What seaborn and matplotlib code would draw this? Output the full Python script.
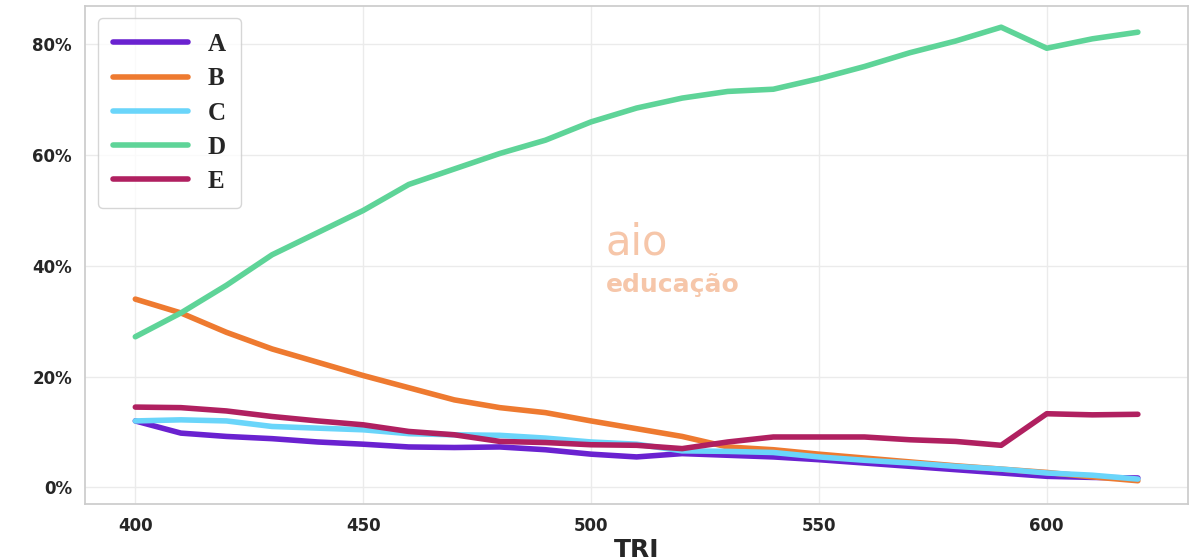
import matplotlib
matplotlib.use("Agg")
import matplotlib.pyplot as plt
import pandas as pd
import seaborn as sns
from matplotlib.ticker import FuncFormatter, MultipleLocator

tri = list(range(400, 630, 10))
serie_a = [12, 9.8, 9.2, 8.8, 8.2, 7.8, 7.3, 7.2, 7.3, 6.8, 6, 5.5, 6.1, 5.8, 5.5, 5, 4.4, 3.8, 3.2, 2.6, 2, 1.8, 1.7]
serie_b = [34, 31.5, 28, 25, 22.6, 20.2, 18, 15.8, 14.4, 13.5, 12, 10.6, 9.2, 7.3, 6.8, 6, 5.3, 4.6, 3.9, 3.3, 2.7, 1.9, 1.2]
serie_c = [12, 12.2, 12, 11, 10.7, 10.4, 9.7, 9.5, 9.4, 8.9, 8.2, 7.8, 6.6, 6.5, 6.3, 5.5, 4.9, 4.4, 3.8, 3.3, 2.6, 2.2, 1.5]
serie_d = [27.2, 31.5, 36.5, 42, 46, 50, 54.7, 57.5, 60.3, 62.7, 66, 68.5, 70.3, 71.5, 71.9, 73.8, 76, 78.5, 80.6, 83.1, 79.3, 81, 82.2]
serie_e = [14.5, 14.4, 13.8, 12.8, 12, 11.3, 10.1, 9.5, 8.3, 8.1, 7.7, 7.6, 7, 8.2, 9.1, 9.1, 9.1, 8.6, 8.3, 7.6, 13.3, 13.1, 13.2]
labels = ["A", "B", "C", "D", "E"]
colors = ["#6a22d0", "#ee7a30", "#6ad5fa", "#5ed498", "#b02060"]

df = pd.DataFrame({"TRI": tri, "A": serie_a, "B": serie_b, "C": serie_c, "D": serie_d, "E": serie_e})
long = df.melt(id_vars="TRI", var_name="alt", value_name="pct")

sns.set_theme(style="whitegrid", rc={"grid.color": "#ebebeb"})
fig, ax = plt.subplots(figsize=(12, 5.6), dpi=100)
fig.subplots_adjust(left=0.071, right=0.99, top=0.99, bottom=0.1)

sns.lineplot(data=long, x="TRI", y="pct", hue="alt", palette=dict(zip(labels, colors)),
             linewidth=4, ax=ax)

ax.text(0.472, 0.5, "aio", transform=ax.transAxes, fontsize=30, color="#f0a070", alpha=0.6)
ax.text(0.472, 0.425, "educação", transform=ax.transAxes, fontsize=18, fontweight="bold",
        color="#f0a070", alpha=0.6)

ax.set_ylim(-3, 87)
ax.yaxis.set_major_locator(MultipleLocator(20))
ax.yaxis.set_major_formatter(FuncFormatter(lambda v, _: f"{v:.0f}%"))
ax.set_xlabel("TRI", fontsize=18, fontweight="bold", labelpad=2)
ax.set_ylabel("")
for t in ax.get_xticklabels() + ax.get_yticklabels():
    t.set_fontweight("bold")
    t.set_fontsize(12)
for s in ax.spines.values():
    s.set_color("#cccccc")

leg = ax.legend(loc="upper left", title=None,
                prop={"family": "Liberation Serif", "size": 18, "weight": "bold"},
                handlelength=3, borderpad=0.6, labelspacing=0.45)
for h in leg.get_lines():
    h.set_linewidth(4)

fig.savefig("out.png")
